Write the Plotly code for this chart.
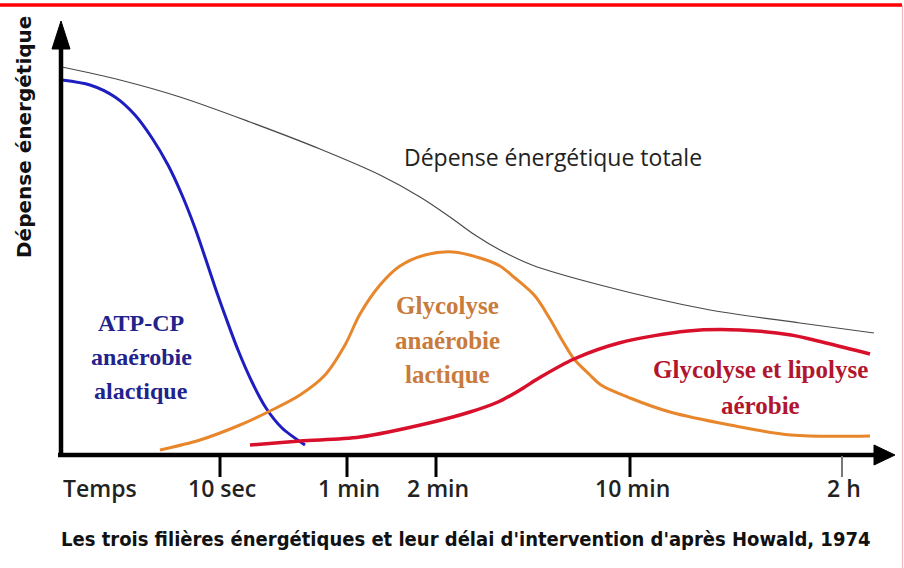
import plotly.graph_objects as go

# ---- data (schematic, x = time position, y = energy output above baseline) ----
total_x = [62, 120, 180, 250, 320, 380, 420, 450, 475, 500, 532, 600, 705, 800, 874]
total_y = [388, 375, 358, 333, 306, 280, 258, 238, 220, 205, 190, 170, 146, 132, 122]

atp_x = [62, 90, 115, 135, 152, 168, 182, 195, 206, 216, 226, 238, 252, 266, 282, 305]
atp_y = [375, 370, 358, 340, 317, 290, 260, 227, 195, 165, 137, 105, 73, 47, 27, 10]

lact_x = [160, 200, 240, 268, 300, 325, 345, 360, 380, 400, 425, 453, 480, 500, 515,
          535, 550, 562, 574, 590, 601, 630, 670, 730, 791, 870]
lact_y = [5, 15, 30, 43, 60, 80, 110, 141, 170, 189, 200, 203, 197, 189, 177,
          159, 136, 115, 96, 80, 70, 57, 43, 30, 20, 19]

aer_x = [250, 300, 360, 429, 470, 498, 520, 539, 574, 619, 688, 740, 791, 826, 870]
aer_y = [10, 14, 18, 32, 43, 53, 65, 77, 96, 112, 124, 125, 120, 112, 101]

tick_x = [220, 347, 436, 630, 842]
tick_labels = ["10 sec", "1 min", "2 min", "10 min", "2 h"]
tick_colors = ["black", "black", "black", "black", "#777777"]

fig = go.Figure()
fig.add_trace(go.Scatter(x=total_x, y=total_y, mode="lines",
                         line=dict(color="#4a4a4a", width=1.2, shape="spline", smoothing=0.9)))
fig.add_trace(go.Scatter(x=atp_x, y=atp_y, mode="lines",
                         line=dict(color="#1e1ec0", width=3, shape="spline", smoothing=0.8)))
fig.add_trace(go.Scatter(x=lact_x, y=lact_y, mode="lines",
                         line=dict(color="#e8862c", width=3, shape="spline", smoothing=0.9)))
fig.add_trace(go.Scatter(x=aer_x, y=aer_y, mode="lines",
                         line=dict(color="#d8102c", width=3.5, shape="spline", smoothing=0.9)))

shapes = []
# axes
shapes.append(dict(type="line", xref="x", yref="y", x0=58, y0=0, x1=878, y1=0,
                   line=dict(color="black", width=4.5)))
shapes.append(dict(type="path", xref="x", yref="y",
                   path="M 874 10 L 895 0 L 874 -10 Z", fillcolor="black",
                   line=dict(color="black", width=1)))
shapes.append(dict(type="line", xref="x", yref="y", x0=61, y0=2, x1=61, y1=410,
                   line=dict(color="black", width=4.5)))
shapes.append(dict(type="path", xref="x", yref="y",
                   path="M 52 406 L 61 434 L 70 406 Z", fillcolor="black",
                   line=dict(color="black", width=1)))
for tx, tc in zip(tick_x, tick_colors):
    shapes.append(dict(type="line", xref="x", yref="y", x0=tx, y0=-1, x1=tx, y1=-22,
                       line=dict(color=tc, width=3 if tc == "black" else 2)))
# frame
shapes.append(dict(type="line", xref="paper", yref="paper", x0=0, y0=1 - 5 / 568,
                   x1=902 / 904, y1=1 - 5 / 568, line=dict(color="#ff0000", width=3.5)))
shapes.append(dict(type="line", xref="paper", yref="paper", x0=902.5 / 904, y0=0,
                   x1=902.5 / 904, y1=1 - 5 / 568, line=dict(color="#f2b8b8", width=1.2)))

ann = []
sans = "Open Sans, Liberation Sans, sans-serif"
ann.append(dict(x=100, y=-33, text="Temps", showarrow=False, xref="x", yref="y",
                font=dict(family=sans, size=23, color="#222222", weight=600)))
for tx, tl in zip(tick_x, tick_labels):
    ann.append(dict(x=tx + 2, y=-33, text=tl, showarrow=False, xref="x", yref="y",
                    font=dict(family=sans, size=23, color="#222222", weight=600)))
ann.append(dict(x=553, y=298, text="Dépense énergétique totale", showarrow=False,
                xref="x", yref="y", font=dict(family=sans, size=23, color="#222222")))
ann.append(dict(x=24, y=318, text="Dépense énergétique", showarrow=False, textangle=-90,
                xref="x", yref="y",
                font=dict(family="DejaVu Sans, sans-serif", size=20, color="#111111",
                          weight="bold")))
ann.append(dict(x=465, y=-84, text="Les trois filières énergétiques et leur délai d'intervention d'après Howald, 1974",
                showarrow=False, xref="x", yref="y",
                font=dict(family="DejaVu Sans Condensed, sans-serif",
                          size=20, color="#111111", weight="bold")))

serif = "Liberation Serif, DejaVu Serif, serif"
for txt, yy in zip(["ATP-CP", "anaérobie", "alactique"], [132, 98, 64]):
    ann.append(dict(x=141, y=yy, text=txt, showarrow=False, xref="x", yref="y",
                    font=dict(family=serif, size=24, color="#22228c", weight="bold")))
for txt, yy in zip(["Glycolyse", "anaérobie", "lactique"], [150, 115, 81]):
    ann.append(dict(x=447, y=yy, text=txt, showarrow=False, xref="x", yref="y",
                    font=dict(family=serif, size=25, color="#c97b3c", weight="bold")))
for txt, yy in zip(["Glycolyse et lipolyse", "aérobie"], [86, 50]):
    ann.append(dict(x=760, y=yy, text=txt, showarrow=False, xref="x", yref="y",
                    font=dict(family=serif, size=25, color="#b2162e", weight="bold")))

fig.update_layout(
    width=904, height=568, margin=dict(l=0, r=0, t=0, b=0),
    paper_bgcolor="white", plot_bgcolor="white", showlegend=False,
    xaxis=dict(range=[0, 904], visible=False, fixedrange=True),
    yaxis=dict(range=[-113, 455], visible=False, fixedrange=True),
    shapes=shapes, annotations=ann,
)
fig.write_html("out.html", config={"displayModeBar": False},
               post_script="document.body.style.margin='0px';document.body.style.overflow='hidden';")
